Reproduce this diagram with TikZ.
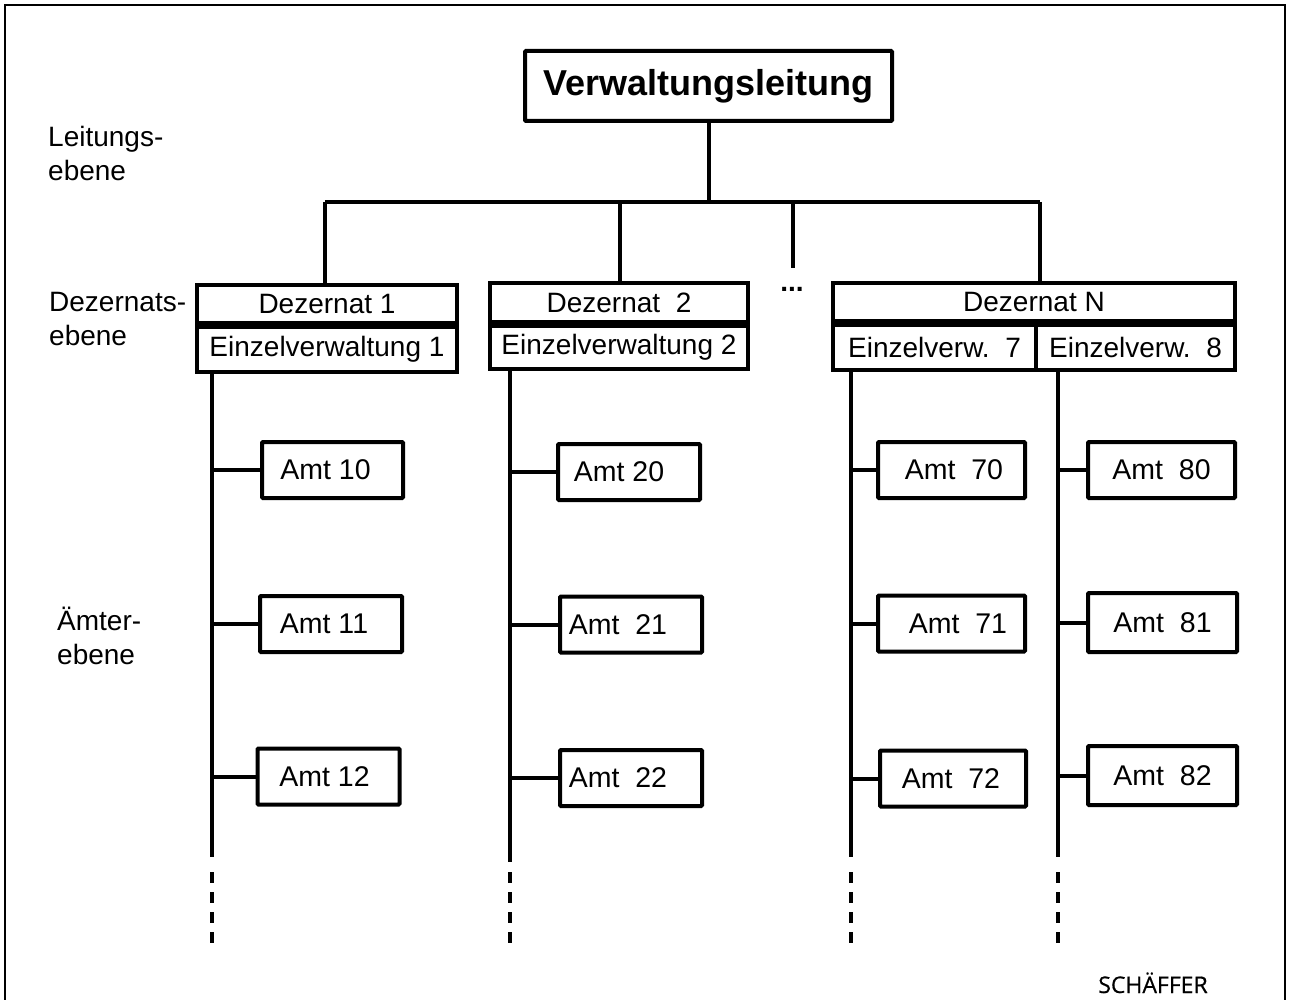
\documentclass[tikz,border=0pt]{standalone}
\usepackage{fontspec}
\setmainfont{Liberation Sans}
\newfontfamily\logofont[FakeBold=0.6]{Open Sans}
\begin{document}
\begin{tikzpicture}[x=1pt,y=-1pt,
  conn/.style={line width=4pt},
  box/.style={draw,line width=4pt,rounded corners=1pt,inner sep=0pt,
    font=\fontsize{28.5}{34}\selectfont},
  cell/.style={draw,line width=4pt,inner sep=0pt,
    font=\fontsize{28}{34}\selectfont},
  amt/.style={box,minimum width=142,minimum height=56},
  lvl/.style={anchor=north west,align=left,inner sep=0pt,
    font=\fontsize{28}{34}\selectfont},
  dots/.style={conn,dash pattern=on 11pt off 9pt}
]
\useasboundingbox (0,0) rectangle (1289,1000);
\draw[line width=2pt] (5,1005) -- (5,5) -- (1285,5) -- (1285,1005);

% top
\node[box,minimum width=367,minimum height=70,
  font=\fontsize{36}{40}\selectfont\bfseries] (vl) at (708.5,86) {Verwaltungsleitung};

% level labels
\node[lvl] (l1) at (48,126) {Leitungs-\\ebene};
\node[lvl] (l2) at (49,292) {Dezernats-\\ebene};
\node[lvl] (l3) at (57,607) {Ämter-\\ebene};

% Dezernat 1
\node[cell,minimum width=260,minimum height=38] (d1a) at (327,304) {Dezernat 1};
\node[cell,minimum width=260,minimum height=45,anchor=north] (d1b) at (d1a.south) {Einzelverwaltung 1};
% Dezernat 2
\node[cell,minimum width=258,minimum height=39] (d2a) at (619,302.5) {Dezernat\ \ 2};
\node[cell,minimum width=258,minimum height=43,anchor=north] (d2b) at (d2a.south) {Einzelverwaltung 2};
% Dezernat N
\node[cell,minimum width=402,minimum height=38] (dna) at (1034,302) {Dezernat N};
\node[cell,minimum width=203,minimum height=45,anchor=north west] (d7) at (dna.south west) {Einzelverw.\ \ 7};
\node[cell,minimum width=199,minimum height=45,anchor=north east] (d8) at (dna.south east) {Einzelverw.\ \ 8};
\node[inner sep=0pt,font=\fontsize{28}{34}\selectfont\bfseries] (ell) at (792,289) {...};

% connectors from top
\coordinate (barL) at (325,202);
\coordinate (barR) at (1040,202);
\coordinate (b2) at (620,202);
\coordinate (stub) at (793,268);
\draw[conn] (vl.south) -- (vl.south |- barL);
\draw[conn] (barL) -- (barR);
\draw[conn] (barL) -- (barL |- d1a.north);
\draw[conn] (b2) -- (b2 |- d2a.north);
\draw[conn] (stub |- barL) -- (stub);
\draw[conn] (barR) -- (barR |- dna.north);

% Amt boxes
\node[amt,minimum width=141] (a10) at (332.5,470) {\kern-14pt Amt 10};
\node[amt] (a11) at (331,624) {\kern-14pt Amt 11};
\node[amt] (a12) at (328.5,776.5) {\kern-8pt Amt 12};
\node[amt] (a20) at (629,472) {\kern-20pt Amt 20};
\node[amt] (a21) at (631,624.5) {\kern-26pt Amt\ \ 21};
\node[amt] (a22) at (631,778) {\kern-26pt Amt\ \ 22};
\node[amt,minimum width=147] (a70) at (951.5,470) {\kern5pt Amt\ \ 70};
\node[amt,minimum width=147] (a71) at (951.5,623.5) {\kern13pt Amt\ \ 71};
\node[amt,minimum width=146] (a72) at (953,778.5) {\kern-4pt Amt\ \ 72};
\node[amt,minimum width=147] (a80) at (1161.5,470) {Amt\ \ 80};
\node[amt,minimum width=149,minimum height=59] (a81) at (1162.5,622.5) {Amt\ \ 81};
\node[amt,minimum width=149,minimum height=59] (a82) at (1162.5,775.5) {Amt\ \ 82};

% trunks
\coordinate (t1) at (212,857);
\coordinate (t2) at (510,862);
\coordinate (t7) at (851,857);
\coordinate (t8) at (1058,857);
\draw[conn] (d1b.south -| t1) -- (t1);
\draw[conn] (d2b.south -| t2) -- (t2);
\draw[conn] (d7.south -| t7) -- (t7);
\draw[conn] (d8.south -| t8) -- (t8);
\foreach \t in {t1,t2,t7,t8}{
  \draw[dots] (\t |- 0,872) -- (\t |- 0,944);
}

% branches
\draw[conn] (a10.west -| t1) -- (a10.west);
\draw[conn] (a11.west -| t1) -- (a11.west);
\draw[conn] (a12.west -| t1) -- (a12.west);
\draw[conn] (a20.west -| t2) -- (a20.west);
\draw[conn] (a21.west -| t2) -- (a21.west);
\draw[conn] (a22.west -| t2) -- (a22.west);
\draw[conn] (a70.west -| t7) -- (a70.west);
\draw[conn] (a71.west -| t7) -- (a71.west);
\draw[conn] (a72.west -| t7) -- (a72.west);
\draw[conn] (a80.west -| t8) -- (a80.west);
\draw[conn] (a81.west -| t8) -- (a81.west);
\draw[conn] (a82.west -| t8) -- (a82.west);

\node[anchor=base,inner sep=0pt,font=\logofont\fontsize{23}{26}\selectfont] (logo) at (1153,993) {SCHÄFFER};
\end{tikzpicture}
\end{document}
